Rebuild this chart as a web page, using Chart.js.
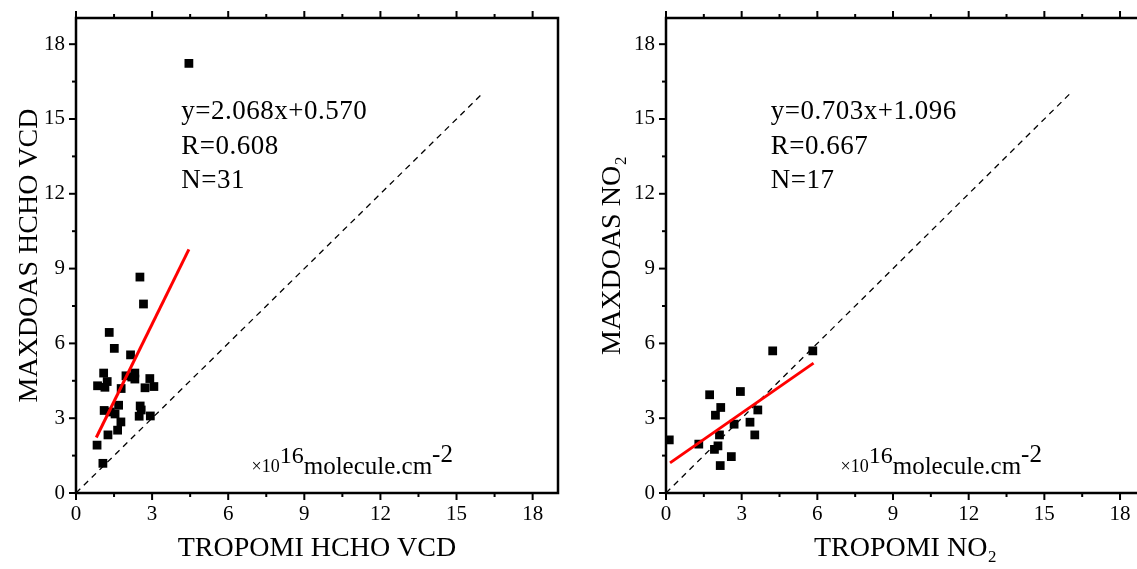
<!DOCTYPE html>
<html><head><meta charset="utf-8">
<script src="https://cdn.jsdelivr.net/npm/chart.js@4/dist/chart.umd.min.js"></script>
<style>
html,body{margin:0;padding:0;background:#fff;overflow:hidden;width:1137px;height:569px;position:relative;}
canvas{position:absolute;top:0;}
#c1{left:0;}
#c2{left:576px;}
</style></head><body>
<canvas id="c1" width="568" height="569"></canvas>
<canvas id="c2" width="580" height="569"></canvas>
<script>
// ---- data ----
const majorTicks = [0, 3, 6, 9, 12, 15, 18];
const minorTicks = [1.5, 4.5, 7.5, 10.5, 13.5, 16.5];

const hchoTropomi = [4.45, 2.52, 2.66, 1.31, 1.51, 2.15, 1.09, 1.23, 0.85, 1.14, 1.97, 2.32, 2.32, 2.91, 3.07, 2.72, 1.78, 1.11, 1.68, 2.53, 2.57, 1.54, 2.49, 2.93, 1.77, 1.64, 1.26, 0.83, 1.06, 1.35, 2.20];
const hchoMaxdoas  = [17.23, 8.66, 7.58, 6.44, 5.80, 5.54, 4.81, 4.47, 4.30, 4.24, 4.70, 4.81, 4.57, 4.59, 4.27, 4.22, 4.19, 3.31, 3.52, 3.49, 3.33, 3.17, 3.08, 3.09, 2.85, 2.52, 2.33, 1.92, 1.19, 3.25, 4.65];
const hchoFit = {slope: 2.068, intercept: 0.570, xFrom: 0.8, xTo: 4.45};
const hchoStats = ["y=2.068x+0.570", "R=0.608", "N=31"];

const no2Tropomi = [0.13, 1.30, 1.73, 2.17, 1.96, 2.95, 4.23, 5.82, 3.64, 3.33, 2.70, 3.52, 2.12, 2.06, 1.92, 2.59, 2.15];
const no2Maxdoas = [2.13, 1.96, 3.94, 3.43, 3.12, 4.07, 5.70, 5.70, 3.33, 2.84, 2.76, 2.33, 2.33, 1.89, 1.75, 1.46, 1.10];
const no2Fit = {slope: 0.703, intercept: 1.096, xFrom: 0.16, xTo: 5.85};
const no2Stats = ["y=0.703x+1.096", "R=0.667", "N=17"];

const oneToOne = [0, 16];

const SERIF = "'Liberation Serif','Times New Roman',serif";

function extrasPlugin(stats) {
  return {
    id: 'extras',
    afterDatasetsDraw(chart) {
      const ctx = chart.ctx, xs = chart.scales.x, ys = chart.scales.y;
      const a = chart.chartArea;
      ctx.save();
      ctx.strokeStyle = '#000';
      ctx.lineWidth = 2.5;
      ctx.beginPath();
      ctx.moveTo(a.left, a.top); ctx.lineTo(a.right, a.top);
      ctx.lineTo(a.right, a.bottom); ctx.lineTo(a.left, a.bottom); ctx.closePath();
      ctx.stroke();
      ctx.lineWidth = 2;
      const tick = (vals, len) => {
        vals.forEach(v => {
          const px = xs.getPixelForValue(v);
          ctx.beginPath();
          ctx.moveTo(px, a.bottom); ctx.lineTo(px, a.bottom + len);
          ctx.moveTo(px, a.top); ctx.lineTo(px, a.top - len);
          ctx.stroke();
          const py = ys.getPixelForValue(v);
          ctx.beginPath();
          ctx.moveTo(a.left, py); ctx.lineTo(a.left - len, py);
          ctx.stroke();
        });
      };
      tick(majorTicks, 7);
      tick(minorTicks, 4);
      // stats text
      ctx.fillStyle = '#000';
      ctx.textBaseline = 'middle';
      ctx.textAlign = 'left';
      ctx.font = '27px ' + SERIF;
      try { ctx.letterSpacing = '0.5px'; } catch (e) {}
      const sy = [15.3, 13.9, 12.5];
      stats.forEach((t, i) => ctx.fillText(t, xs.getPixelForValue(4.15), ys.getPixelForValue(sy[i])));
      try { ctx.letterSpacing = '0px'; } catch (e) {}
      // unit text
      ctx.textBaseline = 'alphabetic';
      let ux = xs.getPixelForValue(6.92);
      const base = ys.getPixelForValue(0.85);
      const segs = [
        ['×10', 18, 0],
        ['16', 24, -9],
        ['molecule.cm', 25, 2],
        ['-2', 25, -10]
      ];
      segs.forEach(([t, s, dy]) => {
        ctx.font = s + 'px ' + SERIF;
        ctx.fillText(t, ux, base + dy);
        ux += ctx.measureText(t).width;
      });
      ctx.restore();
    }
  };
}

function makeChart(id, xs, ys, fit, stats, xTitle, yTitle, yAxisWidth, yTitlePad, xMax, padRight) {
  const scatterPts = xs.map((x, i) => ({x, y: ys[i]}));
  const fitPts = [fit.xFrom, fit.xTo].map(x => ({x, y: fit.slope * x + fit.intercept}));
  const diagPts = oneToOne.map(v => ({x: v, y: v}));
  return new Chart(document.getElementById(id), {
    type: 'scatter',
    data: {
      datasets: [
        {data: diagPts, showLine: true, borderColor: '#000', borderWidth: 1.3, borderDash: [6, 5], pointRadius: 0, order: 3},
        {data: scatterPts, pointStyle: 'rect', pointRadius: 6.2, pointHoverRadius: 6.2, backgroundColor: '#000', borderWidth: 0, order: 2},
        {data: fitPts, showLine: true, borderColor: '#ff0000', borderWidth: 3, pointRadius: 0, order: 1}
      ]
    },
    options: {
      responsive: false,
      animation: false,
      events: [],
      layout: {padding: {top: 18, right: padRight, left: 0, bottom: 0}},
      plugins: {legend: {display: false}, tooltip: {enabled: false}},
      scales: {
        x: {
          type: 'linear', min: 0, max: xMax,
          grid: {display: false, drawTicks: false},
          border: {display: false},
          afterBuildTicks: s => { s.ticks = majorTicks.map(v => ({value: v})); },
          afterFit: s => { s.height = 76; },
          ticks: {padding: 9, color: '#000', font: {family: SERIF, size: 21}, maxRotation: 0, autoSkip: false},
          title: {display: true, text: xTitle, color: '#000', font: {family: SERIF, size: 28}, padding: {top: 0, bottom: 4}}
        },
        y: {
          type: 'linear', min: 0, max: 19.05,
          grid: {display: false, drawTicks: false},
          border: {display: false},
          afterBuildTicks: s => { s.ticks = majorTicks.map(v => ({value: v})); },
          afterFit: s => { s.width = yAxisWidth; s.paddingTop = 0; s.paddingBottom = 0; },
          ticks: {padding: 11, color: '#000', font: {family: SERIF, size: 21, lineHeight: 0.6}, autoSkip: false},
          title: {display: true, text: yTitle, color: '#000', font: {family: SERIF, size: 28}, padding: {top: yTitlePad, bottom: 0}}
        }
      }
    },
    plugins: [extrasPlugin(stats)]
  });
}

makeChart('c1', hchoTropomi, hchoMaxdoas, hchoFit, hchoStats, 'TROPOMI HCHO VCD', 'MAXDOAS HCHO VCD', 76, 13, 19, 10);
makeChart('c2', no2Tropomi, no2Maxdoas, no2Fit, no2Stats, 'TROPOMI NO₂', 'MAXDOAS NO₂', 90, 20, 18.99, 11);
</script>
</body></html>
